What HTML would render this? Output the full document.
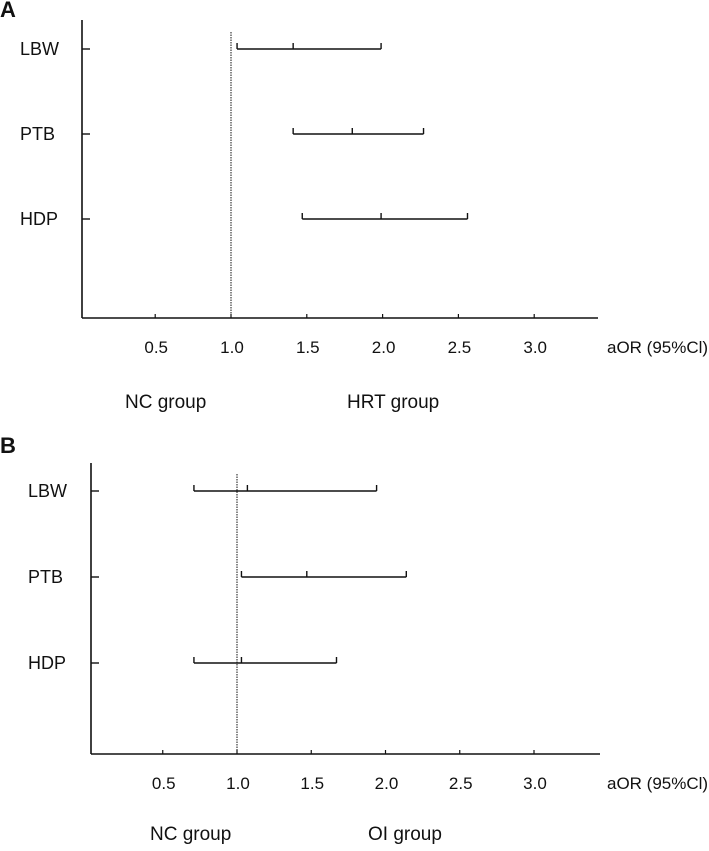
<!DOCTYPE html>
<html><head><meta charset="utf-8"><style>
body{margin:0;background:#fff;}
svg text{font-family:"Liberation Sans",sans-serif;fill:#111;}
</style></head><body>
<svg id="chart" width="709" height="846" viewBox="0 0 709 846" xmlns="http://www.w3.org/2000/svg">
<text x="0" y="17" font-size="22" font-weight="bold">A</text>
<text x="0" y="453" font-size="22" font-weight="bold">B</text>
</svg>
<script>
const categories = ["LBW","PTB","HDP"];
const tickValues = [0.5,1.0,1.5,2.0,2.5,3.0];
const tickLabels = ["0.5","1.0","1.5","2.0","2.5","3.0"];
const aLow = [1.04,1.41,1.47];
const aMid = [1.41,1.80,1.99];
const aHigh = [1.99,2.27,2.56];
const bLow = [0.71,1.03,0.71];
const bMid = [1.07,1.47,1.03];
const bHigh = [1.94,2.14,1.67];

const svg = document.getElementById('chart');
const NS = 'http://www.w3.org/2000/svg';
function mk(tag, attrs){ const e=document.createElementNS(NS,tag); for(const k in attrs) e.setAttribute(k,attrs[k]); svg.appendChild(e); return e; }

function panel(p, key, low, mid, high, groupRight){
  const xs = v => p.x1 + (v-1)*p.unit;
  const ys = i => p.yFirst + i*p.yStep;
  let e;
  e = mk('line',{x1:p.ax,y1:p.top,x2:p.ax,y2:p.bottom,stroke:'#111','stroke-width':1.6});
  
  
  e = mk('line',{x1:p.ax,y1:p.bottom,x2:p.right,y2:p.bottom,stroke:'#111','stroke-width':1.6});
  
  
  e = mk('line',{x1:xs(1),y1:p.dotTop,x2:xs(1),y2:p.bottom,stroke:'#111','stroke-width':1,'stroke-dasharray':'1.5,1'});
  
  
  tickValues.forEach((v,i)=>{
    e = mk('line',{x1:xs(v),y1:p.bottom-4,x2:xs(v),y2:p.bottom,stroke:'#111','stroke-width':1.2});
    
    
    e = mk('text',{x:xs(v)+1,y:p.bottom+35,'font-size':17,'text-anchor':'middle'});
    e.textContent = tickLabels[i];
    
    
  });
  e = mk('text',{x:p.titleX,y:p.bottom+35,'font-size':17});
  e.textContent='aOR (95%Cl)';
  
  
  e = mk('text',{x:p.ncX,y:p.bottom+p.groupDy,'font-size':19});
  e.textContent='NC group';
  
  
  e = mk('text',{x:p.groupX,y:p.bottom+p.groupDy,'font-size':19});
  e.textContent=groupRight;
  
  
  categories.forEach((c,i)=>{
    const y=ys(i);
    e = mk('line',{x1:p.ax,y1:y,x2:p.ax+8,y2:y,stroke:'#111','stroke-width':1.4});
    
    
    e = mk('text',{x:p.catX,y:y+6,'font-size':18});
    e.textContent=c;
    
    
    const g=document.createElementNS(NS,'g'); svg.appendChild(g);
    
    
    const segs=[[xs(low[i]),y,xs(high[i]),y],[xs(low[i]),y-6,xs(low[i]),y],[xs(high[i]),y-6,xs(high[i]),y],[xs(mid[i]),y-6,xs(mid[i]),y]];
    segs.forEach(s=>{const l=document.createElementNS(NS,'line');
      l.setAttribute('x1',s[0]);l.setAttribute('y1',s[1]);l.setAttribute('x2',s[2]);l.setAttribute('y2',s[3]);
      l.setAttribute('stroke','#111');l.setAttribute('stroke-width',1.4);g.appendChild(l);});
  });
}
panel({ax:82,top:20,bottom:318,right:598,x1:231,unit:151.6,yFirst:49,yStep:85,dotTop:32,groupX:347,ncX:125,catX:20,titleX:607,groupDy:90},'panel-a',aLow,aMid,aHigh,'HRT group');
panel({ax:91,top:463,bottom:754,right:600,x1:237,unit:148.5,yFirst:491,yStep:86,dotTop:474,groupX:368,ncX:150,catX:28,titleX:607,groupDy:86},'panel-b',bLow,bMid,bHigh,'OI group');
</script>
</body></html>
